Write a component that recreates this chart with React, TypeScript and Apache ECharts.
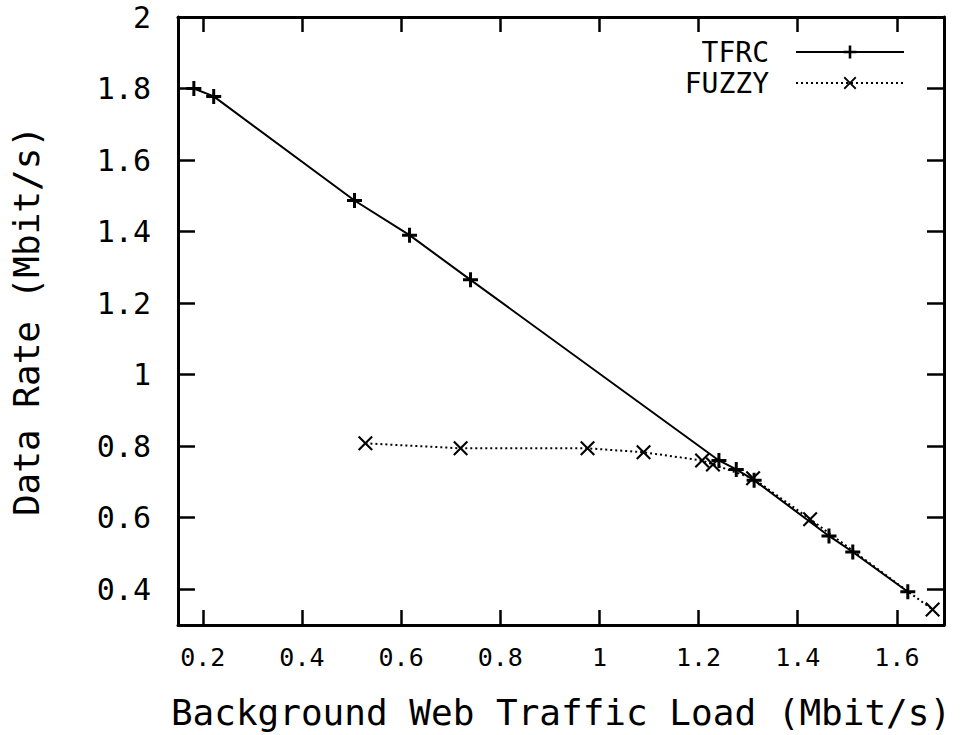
import React, { useEffect, useRef } from "react";
import * as echarts from "echarts";

// TFRC series (x: background load Mbit/s, y: data rate Mbit/s)
const tfrcX = [0.182, 0.222, 0.506, 0.617, 0.74, 1.241, 1.276, 1.312, 1.463, 1.511, 1.622];
const tfrcY = [1.80, 1.778, 1.487, 1.39, 1.265, 0.76, 0.735, 0.705, 0.549, 0.504, 0.393];

// FUZZY series
const fuzzyX = [0.528, 0.72, 0.976, 1.089, 1.207, 1.229, 1.31, 1.425, 1.672];
const fuzzyY = [0.808, 0.794, 0.794, 0.783, 0.76, 0.749, 0.71, 0.596, 0.343];

const seriesNames = ["TFRC", "FUZZY"];
const xTitle = "Background Web Traffic Load (Mbit/s)";
const yTitle = "Data Rate (Mbit/s)";

const X_MIN = 0.15;
const X_MAX = 1.695;
const Y_MIN = 0.3;
const Y_MAX = 2;

const FONT = "DejaVu Sans Mono";
const PLUS = "path://M4,0H6V4H10V6H6V10H4V6H0V4H4Z";
const CROSS = "path://M0,1L1,0L5,4L9,0L10,1L6,5L10,9L9,10L5,6L1,10L0,9L4,5Z";

function axisBase(tickLen: number) {
  return {
    type: "value" as const,
    minInterval: 0.2,
    maxInterval: 0.2,
    splitLine: { show: false },
    axisLine: { show: true, onZero: false, lineStyle: { color: "#000", width: 3 } },
    axisTick: { show: true, inside: true, length: tickLen, lineStyle: { color: "#000", width: 2.5 } },
  };
}

export default function App() {
  const ref = useRef<HTMLDivElement>(null);
  useEffect(() => {
    if (!ref.current) return;
    const chart = echarts.init(ref.current, undefined, { renderer: "svg" });
    chart.setOption({
      animation: false,
      backgroundColor: "#fff",
      grid: { left: 177, right: 19, top: 17, bottom: 107, containLabel: false },
      legend: {
        orient: "vertical",
        align: "right",
        right: 53,
        top: 33,
        itemWidth: 108,
        itemHeight: 16,
        itemGap: 3,
        textStyle: { fontFamily: FONT, fontSize: 28, lineHeight: 28, color: "#000", padding: [0, 22, 0, 0] },
        data: seriesNames,
      },
      xAxis: [
        {
          ...axisBase(15),
          position: "bottom",
          min: X_MIN,
          max: X_MAX,
          name: xTitle,
          nameLocation: "middle",
          nameGap: 69,
          nameTextStyle: { fontFamily: FONT, fontSize: 36, color: "#000" },
          axisLabel: {
            show: true,
            margin: 20,
            showMinLabel: false,
            showMaxLabel: false,
            fontFamily: FONT,
            fontSize: 25,
            color: "#000",
          },
        },
        {
          ...axisBase(15),
          position: "top",
          min: X_MIN,
          max: X_MAX,
          axisLabel: { show: false },
        },
      ],
      yAxis: [
        {
          ...axisBase(17),
          position: "left",
          min: Y_MIN,
          max: Y_MAX,
          name: yTitle,
          nameLocation: "middle",
          nameRotate: 90,
          nameGap: 134,
          nameTextStyle: { fontFamily: FONT, fontSize: 36, color: "#000" },
          axisLabel: {
            show: true,
            margin: 27,
            showMinLabel: false,
            fontFamily: FONT,
            fontSize: 30,
            color: "#000",
          },
        },
        {
          ...axisBase(17),
          position: "right",
          min: Y_MIN,
          max: Y_MAX,
          axisLabel: { show: false },
        },
      ],
      series: [
        {
          name: seriesNames[0],
          type: "line",
          data: tfrcX.map((x, i) => [x, tfrcY[i]]),
          symbol: PLUS,
          symbolSize: 15,
          showAllSymbol: true,
          itemStyle: { color: "#000" },
          lineStyle: { color: "#000", width: 2, type: "solid" },
        },
        {
          name: seriesNames[1],
          type: "line",
          data: fuzzyX.map((x, i) => [x, fuzzyY[i]]),
          symbol: CROSS,
          symbolSize: 15,
          showAllSymbol: true,
          itemStyle: { color: "#000" },
          lineStyle: { color: "#000", width: 2, type: [2, 3] },
        },
      ],
    });
    return () => chart.dispose();
  }, []);
  return <div ref={ref} style={{ width: 963, height: 735, position: "absolute", left: 0, top: 0 }} />;
}
